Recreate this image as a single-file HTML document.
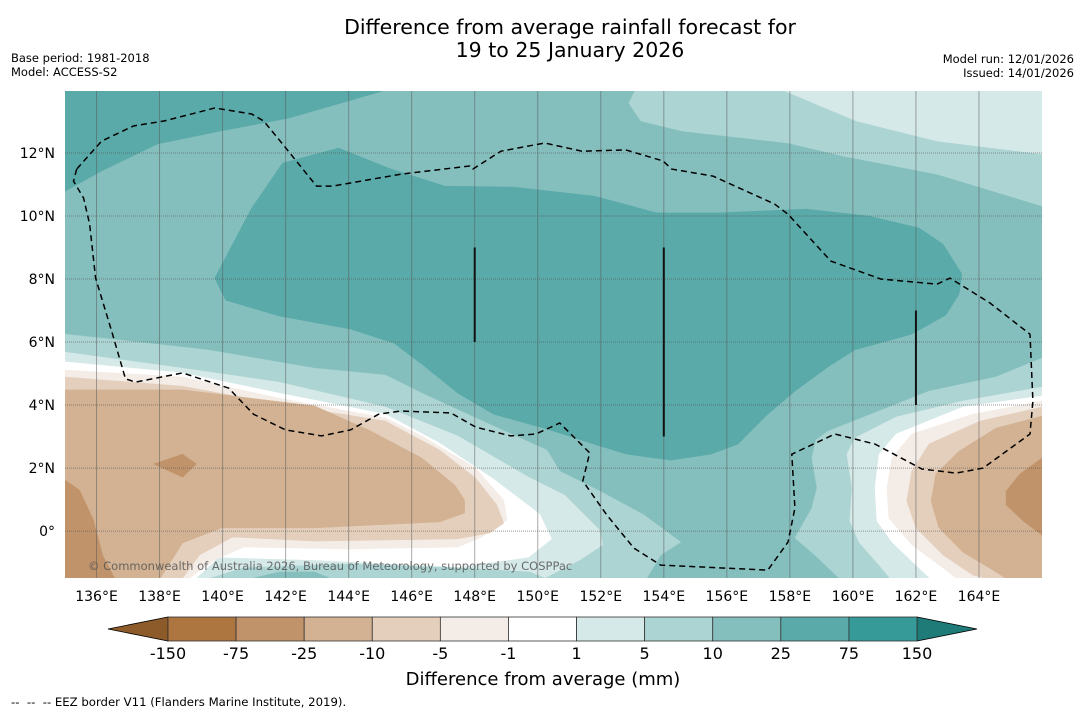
<!DOCTYPE html>
<html><head><meta charset="utf-8"><style>
html,body{margin:0;padding:0;background:#fff;}
svg{display:block;font-family:"DejaVu Sans","Liberation Sans",sans-serif;}
</style></head><body>
<svg id="chart" width="1085" height="713" viewBox="0 0 1085 713" xmlns="http://www.w3.org/2000/svg">
<text x="570" y="34" text-anchor="middle" font-size="20.5">Difference from average rainfall forecast for</text>
<text x="570" y="57" text-anchor="middle" font-size="20.5">19 to 25 January 2026</text>
<text x="11" y="62" font-size="11.5">Base period: 1981-2018</text>
<text x="11" y="76" font-size="11.5">Model: ACCESS-S2</text>
<text x="1074" y="63" font-size="11.5" text-anchor="end">Model run: 12/01/2026</text>
<text x="1074" y="77" font-size="11.5" text-anchor="end">Issued: 14/01/2026</text>
<defs><clipPath id="mapclip"><rect x="65" y="91" width="977" height="487"/></clipPath></defs>
<g id="map" clip-path="url(#mapclip)"></g>
<g id="grid"></g>
<g id="overlay" clip-path="url(#mapclip)"></g>
<text x="88" y="570" font-size="11.5" fill="#555" fill-opacity="0.85">© Commonwealth of Australia 2026, Bureau of Meteorology, supported by COSPPac</text>
<g id="xticks"></g>
<g id="yticks"></g>
<g id="cbar"></g>
<text x="543" y="685" text-anchor="middle" font-size="18">Difference from average (mm)</text>
<text x="11" y="706" font-size="11.7">--&#160;&#160;--&#160;&#160;-- EEZ border V11 (Flanders Marine Institute, 2019).</text>
</svg>
<script>
const lonMin=135, lonMax=166, latMin=-1.49, latMax=13.97;
const xTicks=[136,138,140,142,144,146,148,150,152,154,156,158,160,162,164];
const yTicks=[0,2,4,6,8,10,12];
const cbarLevels=[-150,-75,-25,-10,-5,-1,1,5,10,25,75,150];
const cbarColors=['#ad7641','#c0936a','#d2b292','#e4cfbd','#f4ece6','#ffffff','#d5e9e8','#acd4d3','#84bfbe','#5aaaa9','#359a98'];
const cbarLow='#8d5a2a', cbarHigh='#1e7b78';
const tl25=[[135,13.97],[145.08,13.97],[142.10,13.11],[139.94,12.70],[137.94,12.29],[136.16,11.43],[135,10.79]];
const tr510=[[153.08,13.97],[152.89,13.59],[153.27,13.02],[154.57,12.70],[157.94,12.32],[159.71,11.90],[162.67,11.33],[166,10.32],[166,13.97]];
const tr15=[[157.84,13.97],[160.10,13.02],[162.67,12.38],[166,11.97],[166,13.97]];
const central25=[[143.68,12.16],[145.27,11.52],[147.05,10.95],[149.24,10.92],[151.81,10.63],[153.78,10.10],[155.75,10.10],[158.51,10.22],[160.51,10.00],[162.10,9.62],[162.86,9.11],[163.46,8.16],[163.37,7.52],[162.95,6.86],[161.87,6.25],[160.06,5.75],[159.21,5.21],[158.16,4.44],[157.30,3.71],[156.35,2.76],[155.49,2.44],[154.22,2.25],[152.83,2.44],[151.78,2.76],[150.29,3.24],[148.60,3.71],[147.46,4.38],[146.32,5.30],[145.43,5.97],[144.06,6.41],[141.78,6.83],[140.10,7.33],[139.75,8.03],[140.92,10.25],[141.90,11.68]];
const left510=[[135,6.25],[136.13,6.13],[139.52,5.75],[142.92,5.17],[145.17,4.95],[146.32,4.38],[148.03,3.59],[150.29,2.57],[150.70,1.90],[151.97,1.27],[153.37,0.51],[154.54,-0.35],[153.90,-0.76],[153.46,-1.49],[135,-1.49]];
const left15=[[135,5.68],[138.73,5.17],[141.78,4.73],[145.17,3.94],[147.46,3.02],[149.71,1.71],[150.86,1.14],[151.97,0.03],[152.06,-0.44],[151.33,-0.92],[150.22,-1.49],[135,-1.49]];
const bottom510=[[139.62,-1.49],[140.67,-1.17],[144.06,-1.05],[147.46,-1.17],[149.75,-1.30],[150.22,-1.49]];
const bottom1025=[[140.98,-1.49],[141.81,-1.30],[142.92,-1.30],[143.40,-1.49]];
const leftWhite=[[135,5.37],[138.73,5.02],[141.78,4.38],[145.17,3.71],[146.89,2.79],[148.60,1.65],[150.06,0.54],[150.44,-0.25],[149.71,-0.83],[147.46,-1.14],[142.92,-0.92],[139.87,-0.83],[139.17,-1.49],[135,-1.49]];
const leftM5=[[135,5.11],[138.73,4.89],[141.78,4.22],[145.17,3.59],[146.32,3.02],[148.03,2.00],[148.92,0.98],[149.02,0.35],[148.16,-0.22],[147.46,-0.51],[144.06,-0.57],[140.67,-0.51],[139.75,-0.92],[138.95,-1.49],[135,-1.49]];
const leftM10=[[135,4.89],[138.73,4.60],[141.78,4.03],[145.17,3.49],[146.89,2.57],[148.03,1.68],[148.70,0.83],[148.92,0.25],[148.48,-0.06],[147.46,-0.25],[142.92,-0.32],[140.32,-0.19],[139.27,-0.76],[138.73,-1.49],[135,-1.49]];
const leftM25=[[135,4.48],[138.73,4.48],[142.92,3.97],[144.63,3.21],[146.32,2.32],[147.37,1.46],[147.68,0.98],[147.68,0.57],[146.89,0.29],[142.92,0.10],[139.97,0.10],[138.73,-0.38],[138.03,-1.49],[135,-1.49]];
const leftM75=[[135,1.62],[135.46,1.30],[135.90,0.35],[136.19,-0.76],[136.57,-1.49],[135,-1.49]];
const diamondM75=[[137.81,2.13],[138.73,2.44],[139.17,2.13],[138.73,1.71]];
const right510=[[166,5.49],[164.54,4.89],[162.41,4.44],[160.83,3.81],[159.21,3.17],[158.83,2.89],[158.70,2.32],[158.86,1.37],[158.70,0.73],[158.16,-0.22],[158.79,-0.76],[159.56,-1.49],[166,-1.49]];
const right15=[[166,4.57],[163.49,4.13],[161.37,3.62],[160.06,2.95],[159.81,2.44],[159.97,1.37],[159.90,0.32],[160.19,-0.35],[160.83,-1.08],[161.17,-1.49],[166,-1.49]];
const rightWhite=[[166,4.29],[163.49,3.94],[161.37,3.08],[160.83,2.44],[160.70,1.37],[160.76,0.32],[161.24,-0.35],[162.00,-1.08],[162.44,-1.49],[166,-1.49]];
const rightM5=[[166,4.13],[163.81,3.71],[161.87,3.08],[161.24,2.32],[161.08,1.37],[161.14,0.41],[161.87,-0.44],[162.86,-1.17],[163.27,-1.49],[166,-1.49]];
const rightM10=[[166,3.94],[164.03,3.49],[162.41,2.76],[161.87,1.90],[161.71,0.95],[162.00,0.10],[162.86,-0.76],[163.81,-1.40],[164.19,-1.49],[166,-1.49]];
const rightM25=[[166,3.65],[164.54,3.27],[163.37,2.54],[162.63,1.81],[162.48,0.95],[162.73,0.10],[163.49,-0.67],[164.54,-1.30],[164.83,-1.49],[166,-1.49]];
const rightM75=[[166,2.32],[165.30,1.81],[164.86,1.27],[164.86,0.83],[165.40,0.32],[166,-0.13]];
const eez=[[135.37,11.49],[135.27,11.11],[135.59,10.57],[135.78,9.75],[135.97,8.03],[136.48,6.35],[136.92,4.83],[137.24,4.73],[138.73,5.02],[140.19,4.54],[140.98,3.71],[142.00,3.21],[143.14,3.02],[144.06,3.21],[144.95,3.71],[145.65,3.81],[147.24,3.75],[148.03,3.30],[149.14,3.02],[149.94,3.08],[150.70,3.43],[151.65,2.48],[151.43,1.59],[152.19,0.51],[153.05,-0.54],[153.90,-1.08],[157.30,-1.24],[157.94,-0.35],[158.16,0.73],[158.06,2.44],[159.43,3.08],[160.70,2.76],[162.19,1.97],[163.27,1.84],[164.13,2.00],[165.62,3.08],[165.71,4.13],[165.62,6.25],[164.35,7.24],[163.08,8.03],[162.67,7.84],[160.89,8.00],[159.30,8.57],[157.94,10.06],[157.52,10.38],[155.56,11.27],[154.25,11.49],[153.97,11.75],[152.79,12.10],[151.40,12.06],[150.22,12.32],[148.83,12.06],[147.94,11.49],[147.84,11.59],[145.65,11.33],[143.49,10.95],[142.98,10.95],[141.90,12.29],[141.30,13.02],[140.92,13.24],[139.75,13.43],[138.16,13.02],[137.17,12.86],[136.16,12.38],[135.37,11.49]];
const boundaryLons=[148,154,162];
const boundaryLatTop=[9,9,7];
const boundaryLatBot=[6,3,4];

const NS='http://www.w3.org/2000/svg';
const X0=65,X1=1042,Y0=91,Y1=578;
function sx(lon){return X0+(lon-lonMin)/(lonMax-lonMin)*(X1-X0);}
function sy(lat){return Y0+(latMax-lat)/(latMax-latMin)*(Y1-Y0);}
function mk(tag,attrs,parent){const e=document.createElementNS(NS,tag);for(const k in attrs)e.setAttribute(k,attrs[k]);parent.appendChild(e);return e;}
const map=document.getElementById('map');
const bg=mk('rect',{x:X0,y:Y0,width:X1-X0,height:Y1-Y0,fill:cbarColors[8]},map);


function poly(pts,ci,name){
  const p=mk('polygon',{points:pts.map(q=>sx(q[0]).toFixed(1)+','+sy(q[1]).toFixed(1)).join(' '),fill:cbarColors[ci],stroke:cbarColors[ci],'stroke-width':0.5},map);
  
  
}
poly(tl25,9,'region-25-to-75-northwest');
poly(tr510,7,'region-5-to-10-northeast');
poly(tr15,6,'region-1-to-5-northeast');
poly(central25,9,'region-25-to-75-central');
poly(left510,7,'region-5-to-10-southwest');
poly(left15,6,'region-1-to-5-southwest');
poly(bottom510,7,'region-5-to-10-south');
poly(bottom1025,8,'region-10-to-25-south');
poly(leftWhite,5,'region-near-zero-southwest');
poly(leftM5,4,'region-minus5-to-minus1-southwest');
poly(leftM10,3,'region-minus10-to-minus5-southwest');
poly(leftM25,2,'region-minus25-to-minus10-southwest');
poly(leftM75,1,'region-minus75-to-minus25-west');
poly(diamondM75,1,'region-minus75-to-minus25-patch');
poly(right510,7,'region-5-to-10-southeast');
poly(right15,6,'region-1-to-5-southeast');
poly(rightWhite,5,'region-near-zero-southeast');
poly(rightM5,4,'region-minus5-to-minus1-southeast');
poly(rightM10,3,'region-minus10-to-minus5-southeast');
poly(rightM25,2,'region-minus25-to-minus10-southeast');
poly(rightM75,1,'region-minus75-to-minus25-east');

const grid=document.getElementById('grid');
xTicks.forEach(l=>{const ln=mk('line',{x1:sx(l),x2:sx(l),y1:Y0,y2:Y1,stroke:'#555','stroke-opacity':0.5,'stroke-width':1},grid);

});
yTicks.forEach(l=>{const ln=mk('line',{x1:X0,x2:X1,y1:sy(l),y2:sy(l),stroke:'#555','stroke-opacity':0.6,'stroke-width':1,'stroke-dasharray':'1,1'},grid);

});

const ov=document.getElementById('overlay');
const ez=mk('polyline',{points:eez.map(q=>sx(q[0]).toFixed(1)+','+sy(q[1]).toFixed(1)).join(' '),fill:'none',stroke:'#000','stroke-width':1.5,'stroke-dasharray':'6,4'},ov);


boundaryLons.forEach((l,i)=>{const ln=mk('line',{x1:sx(l),x2:sx(l),y1:sy(boundaryLatTop[i]),y2:sy(boundaryLatBot[i]),stroke:'#111','stroke-width':2},ov);

});

const xt=document.getElementById('xticks');
xTicks.forEach(l=>{const t=mk('text',{x:sx(l),y:601,'text-anchor':'middle','font-size':14},xt);t.textContent=l+'°E';

});
const yt=document.getElementById('yticks');
yTicks.forEach(l=>{const t=mk('text',{x:55,y:sy(l)+5,'text-anchor':'end','font-size':14},yt);t.textContent=l===0?'0°':l+'°N';

});

const cb=document.getElementById('cbar');
const cbX0=168,cbX1=917,cbY0=617,cbY1=641;
const w=(cbX1-cbX0)/cbarColors.length;
const lt=mk('polygon',{points:`108,629 ${cbX0},${cbY0} ${cbX0},${cbY1}`,fill:cbarLow,stroke:'#000','stroke-width':0.8},cb);


const rt=mk('polygon',{points:`977,629 ${cbX1},${cbY0} ${cbX1},${cbY1}`,fill:cbarHigh,stroke:'#000','stroke-width':0.8},cb);


cbarColors.forEach((c,i)=>{const r=mk('rect',{x:cbX0+i*w,y:cbY0,width:w,height:cbY1-cbY0,fill:c,stroke:'#333','stroke-width':0.8},cb);

});
cbarLevels.forEach((v,i)=>{const t=mk('text',{x:cbX0+i*w,y:659,'text-anchor':'middle','font-size':16},cb);t.textContent=v;

});
</script>
</body></html>
